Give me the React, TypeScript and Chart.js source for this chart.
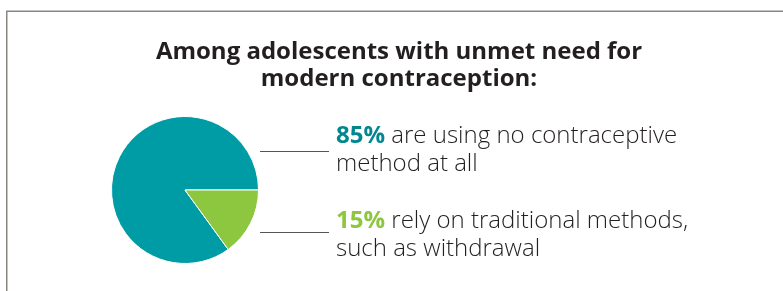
import React, { useEffect, useRef } from 'react';
import { Chart, ArcElement, PieController } from 'chart.js';

Chart.register(PieController, ArcElement);

// ---- data ----
const titleLines = ['Among adolescents with unmet need for', 'modern contraception:'];
const categories = ['No contraceptive method', 'Traditional methods'];
const values = [85, 15];
const descriptionLines = [
  ['are using no contraceptive', 'method at all'],
  ['rely on traditional methods,', 'such as withdrawal'],
];

// ---- styles ----
const SLICE_COLORS = ['#009ca6', '#8dc63f'];
const PCT_COLORS = ['#00878f', '#8dc63f'];
const TEXT_COLOR = '#231f20';
const FONT = '"Open Sans"';

const annotationPlugin = {
  id: 'annotations',
  afterDraw(chart: any) {
    const ctx = chart.ctx as CanvasRenderingContext2D;
    const W = chart.width;
    const H = chart.height;
    ctx.save();
    // frame
    ctx.strokeStyle = '#8a857f';
    ctx.lineWidth = 1.5;
    ctx.beginPath();
    ctx.moveTo(6.75, H);
    ctx.lineTo(6.75, 11.25);
    ctx.lineTo(W, 11.25);
    ctx.stroke();

    // title
    ctx.fillStyle = TEXT_COLOR;
    ctx.textAlign = 'center';
    ctx.textBaseline = 'alphabetic';
    ctx.font = `bold 24px ${FONT}`;
    titleLines.forEach((t, i) => ctx.fillText(t, 399, 59 + i * 27));

    // annotations
    const baselines = [143, 228];
    const leaderY = [151.5, 232.5];
    ctx.textAlign = 'left';
    values.forEach((v, i) => {
      const x0 = 336;
      const y0 = baselines[i];
      ctx.font = `bold 24px ${FONT}`;
      ctx.fillStyle = PCT_COLORS[i];
      const pct = `${v}%`;
      ctx.fillText(pct, x0, y0);
      const pw = ctx.measureText(pct).width;
      ctx.font = `300 24px ${FONT}`;
      ctx.fillStyle = TEXT_COLOR;
      ctx.fillText(' ' + descriptionLines[i][0], x0 + pw, y0);
      ctx.fillText(descriptionLines[i][1], x0, y0 + 28);
      ctx.strokeStyle = '#555';
      ctx.lineWidth = 1;
      ctx.beginPath();
      ctx.moveTo(260, leaderY[i]);
      ctx.lineTo(329, leaderY[i]);
      ctx.stroke();
    });
    ctx.restore();
  },
};

export default function App() {
  const ref = useRef<HTMLCanvasElement>(null);
  useEffect(() => {
    if (!ref.current) return;
    const total = values.reduce((a, b) => a + b, 0);
    const chart = new Chart(ref.current, {
      type: 'pie',
      data: {
        labels: categories,
        datasets: [
          {
            data: values,
            backgroundColor: SLICE_COLORS,
            borderColor: '#ffffff',
            borderWidth: 1,
          },
        ],
      },
      options: {
        responsive: false,
        animation: false,
        rotation: 90 - (360 * values[0]) / total,
        layout: { padding: { left: 111, right: 524, top: 116, bottom: 27 } },
        plugins: { legend: { display: false }, tooltip: { enabled: false } },
      },
      plugins: [annotationPlugin],
    });
    return () => chart.destroy();
  }, []);
  return (
    <div style={{ position: 'fixed', left: 0, top: 0, width: 783, height: 291, background: '#fff' }}>
      <canvas ref={ref} width={783} height={291} />
    </div>
  );
}
